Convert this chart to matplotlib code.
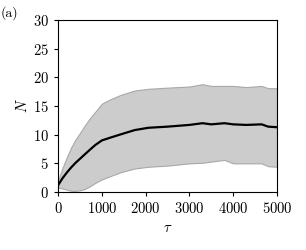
import matplotlib
matplotlib.use("Agg")
import matplotlib.pyplot as plt

plt.rcParams['font.family'] = 'serif'
plt.rcParams['font.serif'] = ['cmr10', 'DejaVu Serif']
plt.rcParams['mathtext.fontset'] = 'cm'
plt.rcParams['axes.formatter.use_mathtext'] = True
plt.rcParams['font.size'] = 10.5

# Mean trajectory and spread
tau = [0, 100, 200, 300, 400, 500, 600, 730, 850, 1000, 1200, 1450, 1750, 2060, 2500,
       3000, 3300, 3500, 3800, 4000, 4300, 4650, 4800, 5000]
mean_n = [1.2, 2.4, 3.4, 4.3, 5.1, 5.8, 6.5, 7.4, 8.2, 9.0, 9.5, 10.1, 10.8, 11.2, 11.4,
          11.7, 12.0, 11.8, 12.0, 11.8, 11.7, 11.8, 11.4, 11.3]
upper_n = [2.0, 4.2, 6.1, 7.8, 9.2, 10.3, 11.5, 12.9, 14.0, 15.4, 16.2, 17.0, 17.7, 18.0, 18.2,
           18.4, 18.8, 18.5, 18.5, 18.5, 18.3, 18.5, 18.1, 18.1]
lower_n = [0.8, 0.6, 0.4, 0.2, 0.2, 0.3, 0.5, 1.0, 1.6, 2.2, 2.8, 3.5, 4.1, 4.4, 4.6,
           5.0, 5.1, 5.3, 5.6, 5.0, 5.0, 5.0, 4.5, 4.4]

fig = plt.figure(figsize=(3.06, 2.5), dpi=100)
ax = fig.add_axes([0.19, 0.232, 0.715, 0.688])

ax.fill_between(tau, lower_n, upper_n, facecolor='#cccccc', edgecolor='#a8a8a8', linewidth=0.8)
ax.plot(tau, mean_n, color='black', linewidth=1.6)

ax.set_xlim(0, 5000)
ax.set_ylim(0, 30)
ax.set_xticks([0, 1000, 2000, 3000, 4000, 5000])
ax.set_yticks([0, 5, 10, 15, 20, 25, 30])
ax.set_xlabel(r'$\tau$')
ax.set_ylabel(r'$N$', labelpad=2)
ax.tick_params(direction='out', length=3, width=0.8)

fig.text(0.003, 0.975, '(a)', ha='left', va='top', fontsize=10)

fig.savefig('out.png', dpi=100)
